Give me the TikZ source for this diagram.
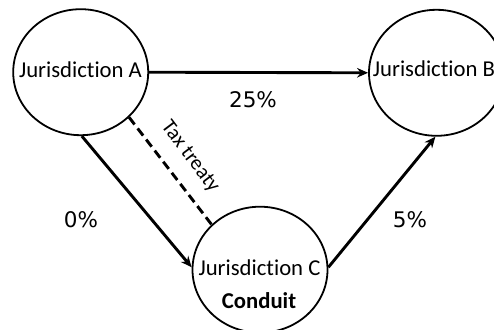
\documentclass[tikz,border=0pt]{standalone}
\usepackage{fontspec}
\setmainfont{Carlito}[Ligatures=CommonOff]
\newfontfamily\pctfont{DejaVu Sans}
\usetikzlibrary{shapes.geometric,arrows.meta}
\begin{document}
\begin{tikzpicture}[x=1pt,y=-1pt,
  juris/.style={ellipse,draw,line width=1.8pt,minimum width=135pt,minimum height=126pt,inner sep=0pt},
  jname/.style={font=\fontsize{22.7}{26}\selectfont,anchor=base,inner sep=0pt},
  rate/.style={font=\pctfont\fontsize{21.5}{24}\selectfont,inner sep=0pt},
  flow/.style={line width=2.9pt,-{Stealth[length=11pt,width=9.5pt]}},
  treaty/.style={line width=2.9pt,dash pattern=on 9pt off 5pt},
]
\path[use as bounding box] (0,0) rectangle (494,329);

% jurisdictions
\node[juris] (A) at (80.7,72.2) {};
\node[juris] (B) at (436.5,72.8) {};
\node[juris] (C) at (260,269.7) {};

\node[jname] (nA) at (80.5,77) {Jurisdiction A};
\node[jname] (nB) at (434,76) {Jurisdiction B};
\node[jname] (nC) at (259.5,275.7) {Jurisdiction C};
\node[jname] (cond) at (259,308.3) {\textbf{Conduit}};

% payment flows
\draw[flow] (A.east) -- (B.west);
\draw[flow] (A.-89) -- (C.178);
\draw[flow] (C.2) -- (B.-91);

% treaty link
\draw[treaty] (A.-43) -- (C.137);
\node[font=\fontsize{21}{24}\selectfont,rotate=-53,inner sep=0pt] (tt) at (190,157) {Tax treaty};

% withholding rates
\node[rate] (r25) at (253,100) {25\%};
\node[rate] (r0) at (81,220) {0\%};
\node[rate] (r5) at (410,220) {5\%};
\end{tikzpicture}
\end{document}
